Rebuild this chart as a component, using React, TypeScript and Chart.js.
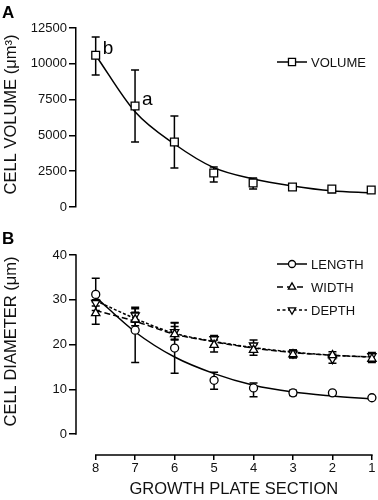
import React, { useEffect, useRef } from "react";
import { Chart, registerables } from "chart.js";
import { drawPoint } from "chart.js/helpers";
Chart.register(...registerables);

const sections = [8, 7, 6, 5, 4, 3, 2, 1];
const xTickLabels = ["8", "7", "6", "5", "4", "3", "2", "1"];
const volumeTicks = [0, 2500, 5000, 7500, 10000, 12500];
const diameterTicks = [0, 10, 20, 30, 40];

const volumeMean = [10600, 7050, 4540, 2370, 1680, 1400, 1250, 1190];
const volumeLow = [9220, 4540, 2720, 1750, 1260, 1300, 1170, 1110];
const volumeHigh = [11870, 9570, 6360, 2790, 2030, 1500, 1330, 1270];
const volumeFit = [10600, 6650, 4400, 2750, 1960, 1470, 1130, 980];

const lengthMean = [31.2, 23.2, 19.2, 12.0, 10.3, 9.2, 9.2, 8.1];
const lengthLow = [27.6, 16.0, 13.6, 10.0, 8.3, 8.6, 9.0, 7.9];
const lengthHigh = [34.8, 28.3, 24.8, 13.8, 11.4, 9.8, 9.4, 8.3];
const lengthFit = [30.6, 22.8, 17.2, 13.5, 10.9, 9.4, 8.5, 7.8];

const widthMean = [27.0, 25.6, 22.3, 19.9, 18.8, 17.8, 17.6, 16.8];
const widthLow = [24.5, 24.2, 21.0, 18.3, 17.6, 17.0, 16.8, 16.0];
const widthHigh = [29.5, 27.2, 24.0, 21.0, 20.0, 18.8, 18.4, 18.0];
const widthFit = [27.6, 25.2, 22.3, 20.6, 19.2, 18.2, 17.6, 17.2];

const depthMean = [29.3, 26.5, 22.8, 21.2, 19.8, 18.0, 16.8, 17.4];
const depthLow = [28.6, 25.0, 21.2, 19.8, 18.5, 17.2, 15.8, 16.4];
const depthHigh = [30.0, 28.0, 24.9, 22.0, 21.0, 18.8, 17.8, 18.2];
const depthFit = [29.8, 25.8, 22.5, 20.7, 19.3, 18.3, 17.6, 17.2];

const annotationSections = [8, 7];
const annotationValues = [10600, 7050];
const annotationLabels = ["b", "a"];

const FONT = "'Liberation Sans', Arial, Helvetica, sans-serif";

const pts = (ys: number[]) => sections.map((s, i) => ({ x: s, y: ys[i] }));

function markerSet(label: string, ys: number[], style: string, radius: number, rotation = 0) {
  return {
    type: "line" as const,
    label,
    data: pts(ys),
    showLine: false,
    pointStyle: style,
    pointRotation: rotation,
    pointRadius: radius,
    pointBorderWidth: 1.3,
    pointBackgroundColor: "#fff",
    pointBorderColor: "#000",
    clip: false,
  };
}

function fitSet(ys: number[], dash: number[] = []) {
  return {
    type: "line" as const,
    label: "fit",
    data: pts(ys),
    pointRadius: 0,
    borderColor: "#000",
    borderWidth: 1.5,
    borderDash: dash,
    cubicInterpolationMode: "monotone" as const,
    fill: false,
    clip: false,
  };
}

function errorPlugin(series: { low: number[]; high: number[] }[]) {
  return {
    id: "errorBars",
    beforeDatasetsDraw(chart: any) {
      const { ctx } = chart;
      const xs = chart.scales.x;
      const ys = chart.scales.y;
      ctx.save();
      ctx.strokeStyle = "#000";
      ctx.lineWidth = 1.5;
      series.forEach((s) =>
        sections.forEach((sec, i) => {
          const x = xs.getPixelForValue(sec);
          const y1 = ys.getPixelForValue(s.low[i]);
          const y2 = ys.getPixelForValue(s.high[i]);
          ctx.beginPath();
          ctx.moveTo(x, y1);
          ctx.lineTo(x, y2);
          ctx.moveTo(x - 4, y1);
          ctx.lineTo(x + 4, y1);
          ctx.moveTo(x - 4, y2);
          ctx.lineTo(x + 4, y2);
          ctx.stroke();
        })
      );
      ctx.restore();
    },
  };
}

type LegendItem = { label: string; dash: number[]; style: string; rotation: number; radius: number };

function legendPlugin(items: LegendItem[], x0: number, y0: number, step: number) {
  return {
    id: "customLegend",
    afterDraw(chart: any) {
      const { ctx } = chart;
      ctx.save();
      items.forEach((it, k) => {
        const y = y0 + k * step;
        ctx.strokeStyle = "#000";
        ctx.lineWidth = 1.5;
        ctx.setLineDash(it.dash);
        ctx.beginPath();
        ctx.moveTo(x0, y);
        ctx.lineTo(x0 + 30, y);
        ctx.stroke();
        ctx.setLineDash([]);
        ctx.fillStyle = "#fff";
        ctx.lineWidth = 1.3;
        drawPoint(ctx, { pointStyle: it.style, rotation: it.rotation, radius: it.radius, borderWidth: 1.3 } as any, x0 + 15, y);
        ctx.fillStyle = "#111";
        ctx.font = `13px ${FONT}`;
        ctx.textAlign = "left";
        ctx.textBaseline = "middle";
        ctx.fillText(it.label, x0 + 34, y + 1);
      });
      ctx.restore();
    },
  };
}

function textPlugin(draw: (chart: any, ctx: CanvasRenderingContext2D) => void) {
  return {
    id: "texts",
    afterDraw(chart: any) {
      const ctx = chart.ctx;
      ctx.save();
      draw(chart, ctx);
      ctx.restore();
    },
  };
}

function xScaleBase(display: boolean) {
  return {
    type: "linear" as const,
    reverse: true,
    min: 1,
    max: 8.5,
    display,
    afterBuildTicks: (scale: any) => {
      scale.ticks = sections.map((v) => ({ value: v }));
    },
    afterFit: (scale: any) => {
      if (display) scale.height = 45;
    },
    border: { display: false },
    grid: {
      drawOnChartArea: false,
      drawTicks: true,
      tickLength: 5,
      color: "#000",
      lineWidth: 1.5,
    },
    ticks: {
      autoSkip: false,
      maxRotation: 0,
      padding: 1,
      color: "#111",
      font: { family: FONT, size: 13 },
      callback: (v: any) => {
        const i = sections.indexOf(Number(v));
        return i >= 0 ? xTickLabels[i] : "";
      },
    },
  };
}

function drawVerticalTitle(ctx: CanvasRenderingContext2D, text: string, x: number, y: number) {
  ctx.translate(x, y);
  ctx.rotate(-Math.PI / 2);
  ctx.fillStyle = "#111";
  ctx.font = `16.5px ${FONT}`;
  ctx.textAlign = "center";
  ctx.textBaseline = "middle";
  ctx.fillText(text, 0, 0);
}

export default function App() {
  const refA = useRef<HTMLCanvasElement>(null);
  const refB = useRef<HTMLCanvasElement>(null);

  useEffect(() => {
    const chartA = new Chart(refA.current as HTMLCanvasElement, {
      type: "line",
      data: {
        datasets: [markerSet("VOLUME", volumeMean, "rect", 5.5), fitSet(volumeFit)] as any,
      },
      options: {
        animation: false,
        responsive: false,
        maintainAspectRatio: false,
        layout: { padding: { top: 28, bottom: 13, left: 0, right: 5 } },
        plugins: { legend: { display: false }, tooltip: { enabled: false } },
        scales: {
          x: xScaleBase(false) as any,
          y: {
            type: "linear",
            min: 0,
            max: 12500,
            afterBuildTicks: (scale: any) => {
              scale.ticks = volumeTicks.map((v) => ({ value: v }));
            },
            afterFit: (scale: any) => {
              scale.width = 76;
            },
            border: { display: true, color: "#000", width: 1.5 },
            grid: { drawOnChartArea: false, drawTicks: true, tickLength: 7, color: "#000", lineWidth: 1.5 },
            ticks: {
              padding: 2,
              color: "#111",
              font: { family: FONT, size: 13 },
              callback: (v: any) => String(v),
            },
          },
        },
      },
      plugins: [
        errorPlugin([{ low: volumeLow, high: volumeHigh }]),
        legendPlugin([{ label: "VOLUME", dash: [], style: "rect", rotation: 0, radius: 5 }], 277, 62, 23),
        textPlugin((chart, ctx) => {
          const xs = chart.scales.x;
          const ys = chart.scales.y;
          ctx.fillStyle = "#000";
          ctx.font = `bold 17px ${FONT}`;
          ctx.textAlign = "left";
          ctx.textBaseline = "middle";
          ctx.fillText("A", 2, 13);
          ctx.font = `19px ${FONT}`;
          ctx.textBaseline = "alphabetic";
          annotationLabels.forEach((t, i) => {
            ctx.fillText(t, xs.getPixelForValue(annotationSections[i]) + 7, ys.getPixelForValue(annotationValues[i]) - 1);
          });
          const ca = chart.chartArea;
          drawVerticalTitle(ctx, "CELL VOLUME (μm³)", 11, (ca.top + ca.bottom) / 2 - 3);
        }),
      ],
    });

    const chartB = new Chart(refB.current as HTMLCanvasElement, {
      type: "line",
      data: {
        datasets: [
          markerSet("LENGTH", lengthMean, "circle", 4),
          markerSet("WIDTH", widthMean, "triangle", 4.8),
          markerSet("DEPTH", depthMean, "triangle", 4.8, 180),
          fitSet(lengthFit),
          fitSet(widthFit, [6, 3]),
          fitSet(depthFit, [3, 2]),
        ] as any,
      },
      options: {
        animation: false,
        responsive: false,
        maintainAspectRatio: false,
        layout: { padding: { top: 35, bottom: 0, left: 0, right: 5 } },
        plugins: { legend: { display: false }, tooltip: { enabled: false } },
        scales: {
          x: xScaleBase(true) as any,
          y: {
            type: "linear",
            min: -4.69,
            max: 40,
            afterBuildTicks: (scale: any) => {
              scale.ticks = diameterTicks.map((v) => ({ value: v }));
            },
            afterFit: (scale: any) => {
              scale.width = 76;
            },
            border: { display: false },
            grid: { drawOnChartArea: false, drawTicks: true, tickLength: 7, color: "#000", lineWidth: 1.5 },
            ticks: {
              padding: 2,
              color: "#111",
              font: { family: FONT, size: 13 },
              callback: (v: any) => String(v),
            },
          },
        },
      },
      plugins: [
        errorPlugin([
          { low: lengthLow, high: lengthHigh },
          { low: widthLow, high: widthHigh },
          { low: depthLow, high: depthHigh },
        ]),
        {
          id: "axisLines",
          afterDraw(chart: any) {
            const { ctx, chartArea } = chart;
            const xs = chart.scales.x;
            const ys = chart.scales.y;
            ctx.save();
            ctx.strokeStyle = "#000";
            ctx.lineWidth = 1.5;
            ctx.beginPath();
            ctx.moveTo(chartArea.left, ys.getPixelForValue(diameterTicks[0]) + 0.75);
            ctx.lineTo(chartArea.left, ys.getPixelForValue(diameterTicks[diameterTicks.length - 1]) - 0.75);
            ctx.moveTo(xs.getPixelForValue(sections[0]) - 0.75, chartArea.bottom);
            ctx.lineTo(xs.getPixelForValue(sections[sections.length - 1]) + 0.75, chartArea.bottom);
            ctx.stroke();
            ctx.restore();
          },
        },
        legendPlugin(
          [
            { label: "LENGTH", dash: [], style: "circle", rotation: 0, radius: 3.5 },
            { label: "WIDTH", dash: [6, 4], style: "triangle", rotation: 0, radius: 4.2 },
            { label: "DEPTH", dash: [3, 2.5], style: "triangle", rotation: 180, radius: 4.2 },
          ],
          277,
          44,
          23
        ),
        textPlugin((chart, ctx) => {
          const xs = chart.scales.x;
          const ys = chart.scales.y;
          ctx.fillStyle = "#000";
          ctx.font = `bold 17px ${FONT}`;
          ctx.textAlign = "left";
          ctx.textBaseline = "middle";
          ctx.fillText("B", 2, 19);
          ctx.font = `16.5px ${FONT}`;
          ctx.textAlign = "center";
          ctx.fillStyle = "#111";
          const cx = (xs.getPixelForValue(sections[0]) + xs.getPixelForValue(sections[sections.length - 1])) / 2;
          ctx.fillText("GROWTH PLATE SECTION", cx, chart.chartArea.bottom + 34);
          const cy = (ys.getPixelForValue(0) + ys.getPixelForValue(40)) / 2 - 3;
          drawVerticalTitle(ctx, "CELL DIAMETER (μm)", 11, cy);
        }),
      ],
    });

    return () => {
      chartA.destroy();
      chartB.destroy();
    };
  }, []);

  return (
    <div style={{ position: "absolute", left: 0, top: 0, width: 378, height: 500, background: "#fff" }}>
      <canvas ref={refA} width={378} height={220} style={{ display: "block", width: 378, height: 220 }} />
      <canvas ref={refB} width={378} height={280} style={{ display: "block", width: 378, height: 280 }} />
    </div>
  );
}
